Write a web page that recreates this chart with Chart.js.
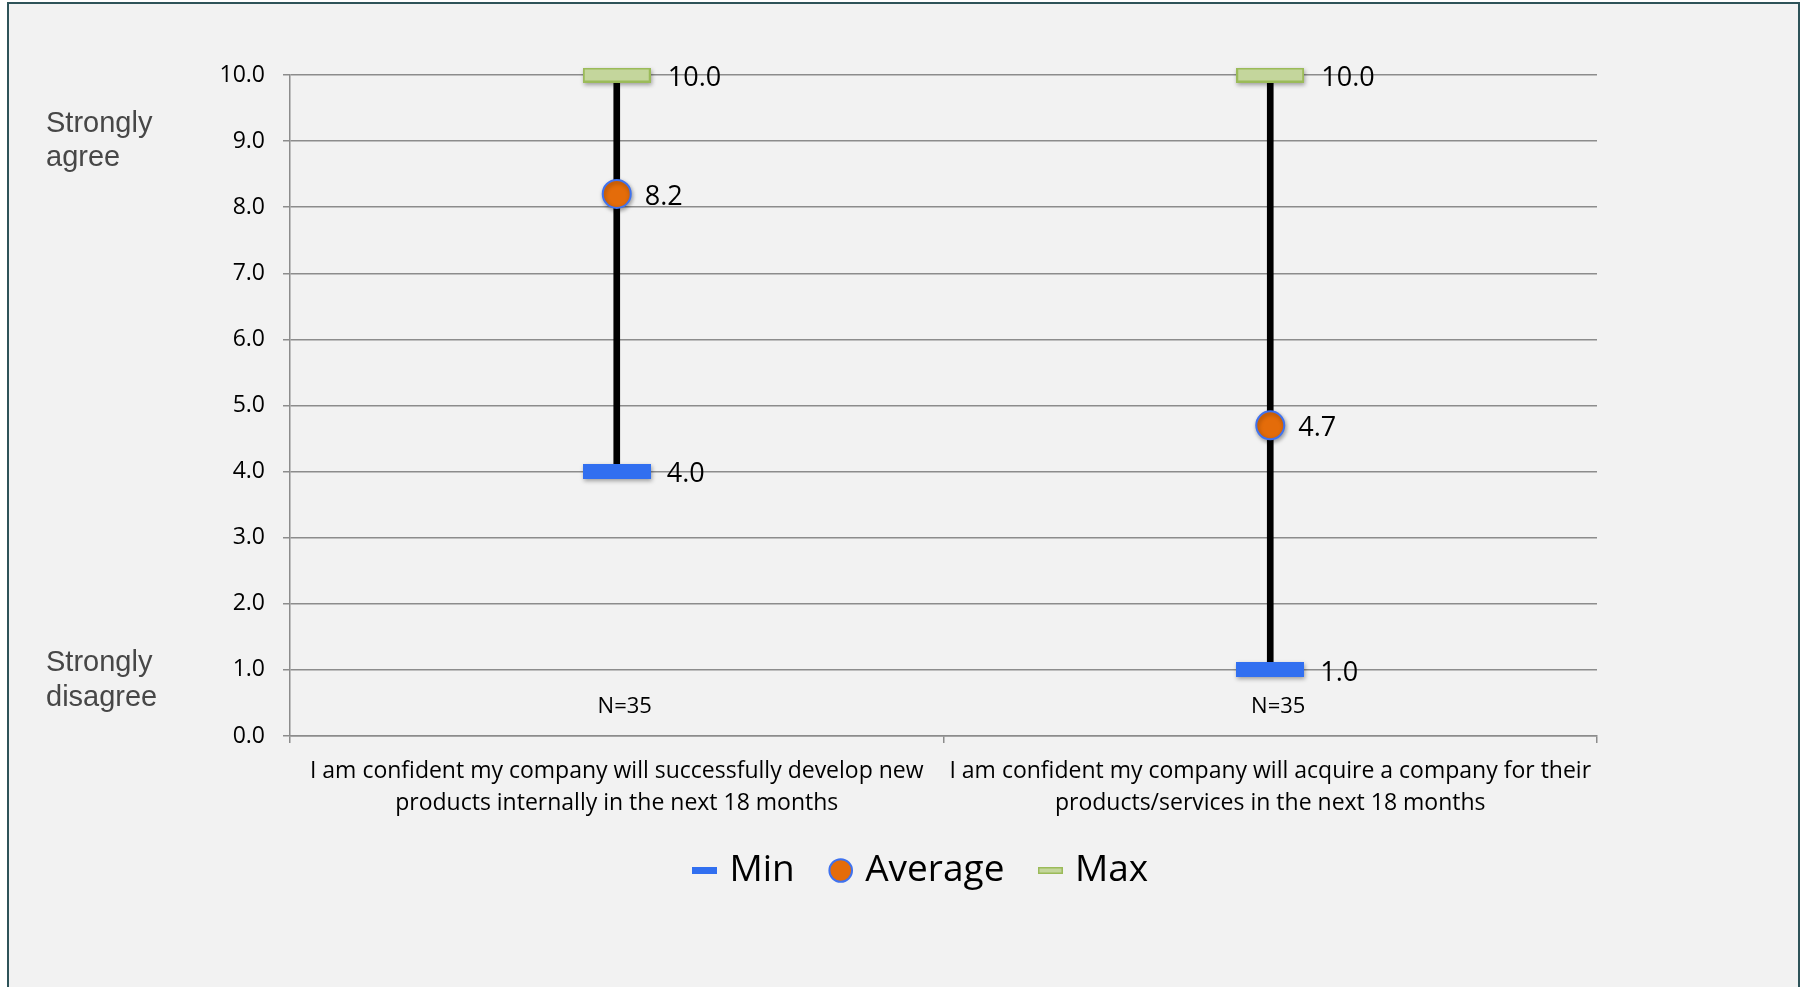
<!DOCTYPE html>
<html>
<head>
<meta charset="utf-8">
<script src="https://cdn.jsdelivr.net/npm/chart.js@4.4.0/dist/chart.umd.min.js"></script>
<style>
  html, body { margin: 0; padding: 0; background: #fff; }
  body { width: 1804px; height: 987px; overflow: hidden; position: relative; }
  #moldura { position: absolute; left: 7px; top: 2px; width: 1789px; height: 1000px; border: 2px solid #2e5359; background: #f2f2f2; }
  #grafico { position: absolute; left: 0; top: 0; }
</style>
</head>
<body>
<div id="moldura"></div>
<canvas id="grafico" width="1804" height="987"></canvas>
<script>
// perguntas (cada uma quebrada em duas linhas)
const categorias = [
  ['I am confident my company will successfully develop new', 'products internally in the next 18 months'],
  ['I am confident my company will acquire a company for their', 'products/services in the next 18 months']
];
const minimos = [4.0, 1.0];
const medias = [8.2, 4.7];
const maximos = [10.0, 10.0];
const amostras = ['N=35', 'N=35'];
const ticksY = [0, 1, 2, 3, 4, 5, 6, 7, 8, 9, 10];

const cinzaGrade = '#8c8c8c';
const fonte = '"Open Sans"';

// desenha um retangulo num canvas pequeno pra usar como pointStyle
function criaRetangulo(largura, altura, preenchimento, borda, espessura) {
  const c = document.createElement('canvas');
  c.width = largura;
  c.height = altura;
  const ctx = c.getContext('2d');
  ctx.fillStyle = preenchimento;
  ctx.fillRect(0, 0, largura, altura);
  if (borda) {
    ctx.strokeStyle = borda;
    ctx.lineWidth = espessura;
    ctx.strokeRect(espessura / 2, espessura / 2, largura - espessura, altura - espessura);
  }
  return c;
}

const marcaMin = criaRetangulo(68, 15, '#316ff0');
const marcaMax = criaRetangulo(68, 15, '#c4d69c', '#9bbb59', 2);
const legendaMin = criaRetangulo(25, 7, '#316ff0');
const legendaMax = criaRetangulo(25, 7, '#c4d69c', '#9bbb59', 1.5);

// sombra leve embaixo dos marcadores
const sombra = {
  id: 'sombra',
  beforeDatasetDraw(chart, args) {
    if (!chart.data.datasets[args.index].sombra) return;
    const ctx = chart.ctx;
    ctx.save();
    ctx.shadowColor = 'rgba(0,0,0,0.35)';
    ctx.shadowBlur = 4;
    ctx.shadowOffsetX = 1;
    ctx.shadowOffsetY = 2;
  },
  afterDatasetDraw(chart, args) {
    if (!chart.data.datasets[args.index].sombra) return;
    chart.ctx.restore();
  }
};

// valores ao lado dos marcadores + N=35 + textos da escala
const rotulos = {
  id: 'rotulos',
  afterDatasetsDraw(chart) {
    const ctx = chart.ctx;
    const x = chart.scales.x;
    const y = chart.scales.y;
    ctx.save();
    ctx.font = '27px ' + fonte;
    ctx.fillStyle = '#000';
    ctx.textAlign = 'left';
    ctx.textBaseline = 'middle';
    chart.data.datasets.forEach((ds, i) => {
      if (!ds.deslocRotulo) return;
      chart.getDatasetMeta(i).data.forEach((pt, j) => {
        ctx.fillText(ds.data[j].toFixed(1), pt.x + ds.deslocRotulo, pt.y + 3);
      });
    });

    ctx.font = '22px ' + fonte;
    ctx.textAlign = 'center';
    amostras.forEach((txt, j) => {
      ctx.fillText(txt, x.getPixelForValue(j) + 8, y.getPixelForValue(0.45));
    });

    ctx.font = '29px "Liberation Sans"';
    ctx.fillStyle = '#474747';
    ctx.textAlign = 'left';
    ctx.textBaseline = 'alphabetic';
    const topo = y.getPixelForValue(9.14);
    ctx.fillText('Strongly', 46, topo);
    ctx.fillText('agree', 46, topo + 34.5);
    const baixo = y.getPixelForValue(0.98);
    ctx.fillText('Strongly', 46, baixo);
    ctx.fillText('disagree', 46, baixo + 34.5);
    ctx.restore();
  }
};

// legenda: um pouco pra esquerda e pra cima, encostada nos rotulos do eixo x
const ajusteLegenda = {
  id: 'ajusteLegenda',
  afterLayout(chart) {
    const lg = chart.legend;
    lg.left -= 20;
    lg.right -= 20;
    lg.top -= 22;
    lg.bottom -= 22;
  }
};

const dados = {
  labels: categorias,
  datasets: [
    {
      type: 'bar',
      label: 'Faixa',
      data: minimos.map((v, i) => [v, maximos[i]]),
      backgroundColor: '#000',
      barThickness: 6,
      order: 4
    },
    {
      type: 'line',
      label: 'Min',
      data: minimos,
      showLine: false,
      pointStyle: marcaMin,
      pointRadius: 8,
      clip: false,
      sombra: true,
      deslocRotulo: 50,
      order: 3
    },
    {
      type: 'line',
      label: 'Max',
      data: maximos,
      showLine: false,
      pointStyle: marcaMax,
      pointRadius: 8,
      clip: false,
      sombra: true,
      deslocRotulo: 51,
      order: 2
    },
    {
      type: 'line',
      label: 'Average',
      data: medias,
      showLine: false,
      pointStyle: 'circle',
      pointRadius: 14,
      pointBackgroundColor: '#e46c0a',
      pointBorderColor: '#3f72ef',
      pointBorderWidth: 2,
      clip: false,
      sombra: true,
      deslocRotulo: 28,
      order: 1
    }
  ]
};

const opcoes = {
  responsive: false,
  animation: false,
  layout: { padding: { left: 10, right: 207, top: 75, bottom: 66 } },
  scales: {
    x: {
      offset: true,
      grid: { drawOnChartArea: false, drawTicks: true, tickLength: 7, offset: true, color: cinzaGrade, lineWidth: 1.5 },
      border: { color: cinzaGrade, width: 1.5 },
      ticks: { font: { family: 'Open Sans', size: 23, lineHeight: 1.39 }, color: '#000', padding: 12, maxRotation: 0, autoSkip: false },
      afterFit(s) { s.height = 98; }
    },
    y: {
      min: 0,
      max: 10,
      afterBuildTicks(s) { s.ticks = ticksY.map(v => ({ value: v })); },
      grid: { color: cinzaGrade, lineWidth: 1.5, tickLength: 7 },
      border: { color: cinzaGrade, width: 1.5 },
      ticks: { font: { family: 'Open Sans', size: 23 }, color: '#000', padding: 18, callback: v => v.toFixed(1) },
      afterFit(s) { s.width = 280; }
    }
  },
  plugins: {
    tooltip: { enabled: false },
    legend: {
      position: 'bottom',
      fullSize: false,
      labels: {
        usePointStyle: true,
        boxWidth: 12,
        boxHeight: 16,
        padding: 40,
        color: '#000',
        font: { family: 'Open Sans', size: 37 },
        generateLabels() {
          return [
            { text: 'Min', pointStyle: legendaMin, fillStyle: '#316ff0', strokeStyle: '#316ff0', lineWidth: 0, hidden: false, datasetIndex: 1 },
            { text: 'Average', pointStyle: 'circle', fillStyle: '#e46c0a', strokeStyle: '#3f72ef', lineWidth: 2, hidden: false, datasetIndex: 3 },
            { text: 'Max', pointStyle: legendaMax, fillStyle: '#c4d69c', strokeStyle: '#9bbb59', lineWidth: 0, hidden: false, datasetIndex: 2 }
          ];
        }
      }
    }
  }
};

const grafico = new Chart(document.getElementById('grafico'), {
  type: 'bar',
  data: dados,
  options: opcoes,
  plugins: [sombra, rotulos, ajusteLegenda]
});
</script>
</body>
</html>
